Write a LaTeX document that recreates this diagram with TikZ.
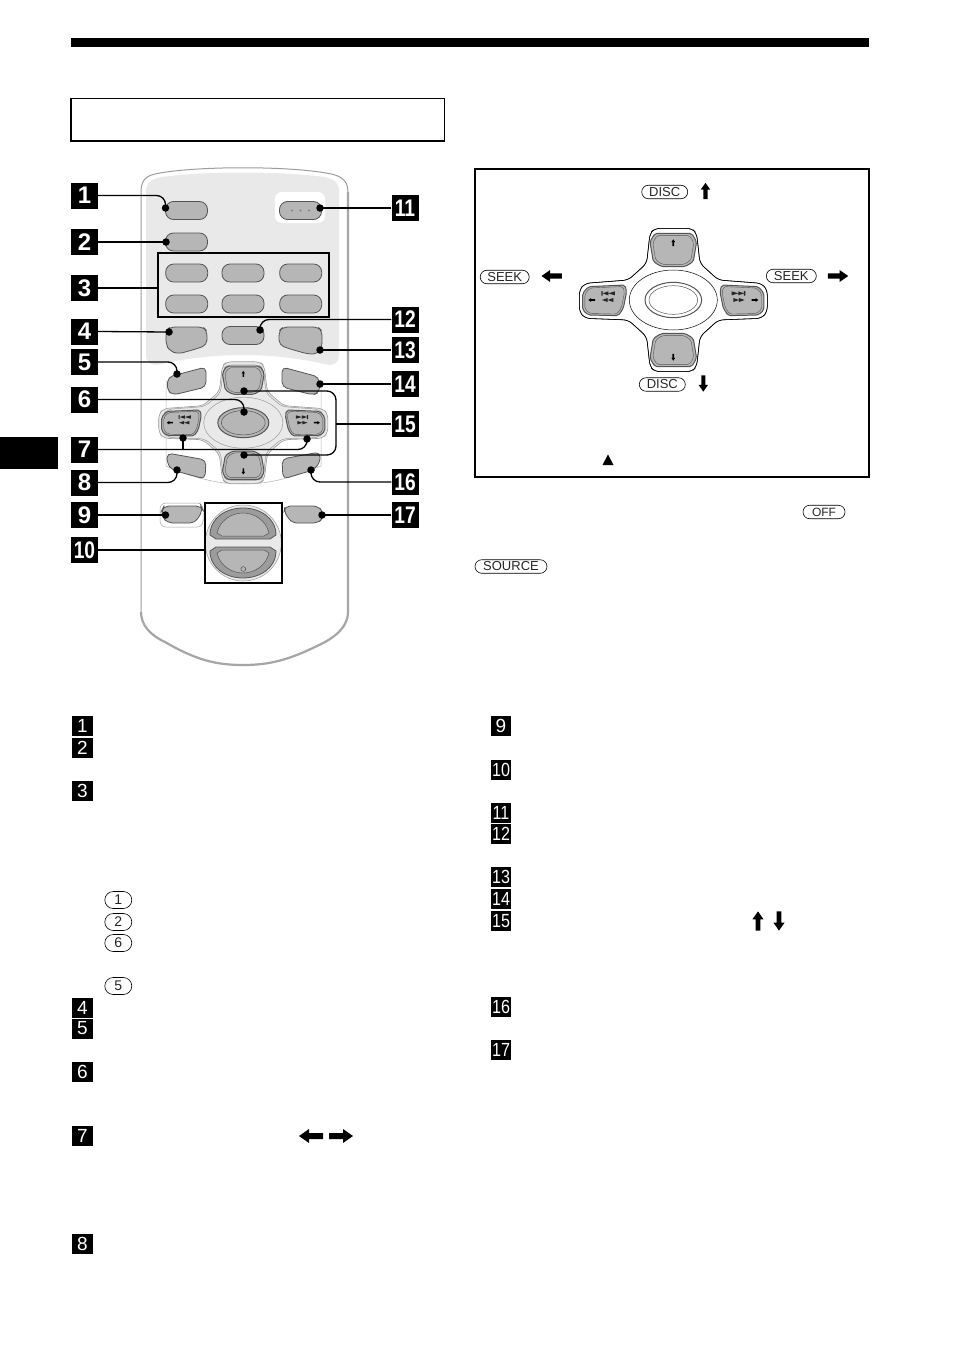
\documentclass[tikz,border=0pt]{standalone}
\usepackage{fontspec}
\usepackage{graphicx}
\setmainfont{Liberation Sans}
\usetikzlibrary{shapes.misc}
\definecolor{btngray}{HTML}{B6B6B6}
\definecolor{btnline}{HTML}{555555}
\definecolor{panelgray}{HTML}{E9E9E9}
\definecolor{ringgray}{HTML}{9C9C9C}
\tikzset{
  badgebig/.style={fill=black,text=white,inner sep=0pt,minimum width=27pt,minimum height=26pt,font=\fontsize{24}{24}\selectfont\bfseries},
  badgesmall/.style={fill=black,text=white,inner sep=0pt,minimum width=20.5pt,minimum height=20pt,font=\fontsize{19}{19}\selectfont},
  pill/.style={rounded rectangle,draw=black,line width=.6pt,inner sep=0pt,minimum height=13.5pt,font=\fontsize{13}{13}\selectfont,text=black!85},
  rbtn/.style={rounded corners=8pt,draw=btnline,fill=btngray,line width=.8pt,minimum width=42pt,minimum height=18pt,inner sep=0pt},
  pbtn/.style={rounded corners=5pt,draw=btnline,fill=btngray,line width=.8pt},
  ldot/.style={circle,fill=black,inner sep=0pt,minimum size=7.5pt},
  leader/.style={line width=1.3pt,black,rounded corners=9pt},
  keybox/.style={draw=black,line width=1.6pt,inner sep=0pt},
  barrow/.pic={\fill[black] (-12,-3)--(2,-3)--(2,-7)--(12,0)--(2,7)--(2,3)--(-12,3)--cycle;},
}
\def\dpadoutline{(-70,-200) -- (-55,-215) -- (55,-215) -- (70,-200) -- (80,-110) -- (135,-60) -- (265,-50) -- (282,-30) -- (282,35) -- (265,55) -- (135,60) -- (80,110) -- (70,200) -- (55,215) -- (-55,215) -- (-70,200) -- (-80,110) -- (-135,60) -- (-265,55) -- (-282,35) -- (-282,-30) -- (-265,-50) -- (-135,-60) -- (-80,-110) -- cycle}
\def\upbtn{(-55,-200) -- (55,-200) -- (70,-175) -- (60,-115) -- (35,-100) -- (-35,-100) -- (-60,-115) -- (-70,-175) -- cycle}
\def\sidebtn{(145,-45) -- (255,-40) -- (272,-20) -- (272,30) -- (255,45) -- (165,47) -- (150,25) -- (140,-25) -- cycle}
% #1 x, #2 y, #3 xscale, #4 yscale, #5 outline, #6 arm fill, #7 ring fill, #8 centre fill, #9 extra outline ring
\newcommand\dpad[9]{%
\begin{scope}[shift={(#1,#2)},xscale=#3/3,yscale=#4/3]
  \draw[#5,line width=.6pt,fill=#6,rounded corners=5pt] \dpadoutline;
  \begin{scope}[scale=#9]
    \draw[#5,line width=.5pt,rounded corners=5pt] \dpadoutline;
  \end{scope}
  \draw[#5,line width=.5pt,fill=#7] (0,0) ellipse (132 and 90);
  \draw[btnline,line width=1pt,fill=#8] (0,0) ellipse (85 and 53);
  \draw[btnline,line width=.5pt,fill=#8] (0,0) ellipse (73 and 43);
  \foreach \sy in {1,-1}{
    \begin{scope}[yscale=\sy]
      \draw[btnline,line width=1pt,fill=btngray,rounded corners=2pt] \upbtn;
      \begin{scope}[shift={(0,-150)},scale=.88,shift={(0,150)}]
        \draw[btnline,line width=.4pt,rounded corners=2pt] \upbtn;
      \end{scope}
    \end{scope}
  }
  \foreach \sx/\rot in {1/0,-1/180}{
    \begin{scope}[xscale=\sx]
      \draw[btnline,line width=1pt,fill=btngray,rounded corners=2pt] \sidebtn;
      \begin{scope}[shift={(205,0)},scale=.9,shift={(-205,0)}]
        \draw[btnline,line width=.4pt,rounded corners=2pt] \sidebtn;
      \end{scope}
      \fill[black!85] (175,-26) -- (195,-20) -- (175,-14) -- cycle
        (195,-26) -- (212,-20) -- (195,-14) -- cycle
        (212,-27) rectangle (216,-13)
        (180,-6) -- (197,0) -- (180,6) -- cycle
        (197,-6) -- (214,0) -- (197,6) -- cycle;
      \pic[scale=.28*#3,rotate=\rot] at (245,0) {barrow};
    \end{scope}
  }
  \pic[scale=.28*#3,rotate=90] at (0,-172) {barrow};
  \pic[scale=.28*#3,rotate=-90] at (0,172) {barrow};
\end{scope}}
\def\lobe{(210,535) .. controls (210,518) and (226,508) .. (243,508) .. controls (260,508) and (276,518) .. (276,535) -- (270,539) -- (216,539) -- cycle}
\def\lobein{(217,533) .. controls (220,520) and (232,513) .. (243,513) .. controls (254,513) and (266,520) .. (269,533) -- (264,536) -- (222,536) -- cycle}
\begin{document}
\begin{tikzpicture}[x=1pt,y=-1pt]
\useasboundingbox (0,0) rectangle (954,1352);
\fill[white] (0,0) rectangle (954,1352);
% page furniture
\fill[black] (71,38) rectangle (869,47);
\fill[black] (0,437) rectangle (58,469);
\draw[black,line width=1.1pt] (71,98.5) rectangle (444.3,141);
\draw[black,line width=1.6pt] (475,169) rectangle (869,477);
% remote body
\draw[line width=1pt,ringgray,fill=white] (141,192) .. controls (141,178) and (148,175) .. (160,173) .. controls (200,166) and (286,166) .. (326,173) .. controls (338,175) and (348,178) .. (348,192) -- (348,612) .. controls (348,625) and (338,635) .. (325,642) .. controls (290,660) and (270,665) .. (243,665) .. controls (216,665) and (196,660) .. (165,642) .. controls (150,635) and (141,625) .. (141,612) -- cycle;
\draw[line width=2.2pt,black!35] (348,192) -- (348,612) .. controls (348,625) and (338,635) .. (325,642) .. controls (290,660) and (270,665) .. (243,665) .. controls (216,665) and (196,660) .. (165,642) .. controls (150,635) and (141,625) .. (141,612);
\fill[panelgray] (146,192) .. controls (146,182) and (152,179) .. (162,177) .. controls (205,171) and (281,171) .. (324,177) .. controls (334,179) and (339,182) .. (339,192) -- (339,355) .. controls (339,362) and (335,365) .. (329,365) .. controls (300,358) and (270,355) .. (243,355) .. controls (216,355) and (186,358) .. (157,365) .. controls (151,365) and (146,362) .. (146,355) -- cycle;
\fill[white,rounded corners=7pt] (275,192) rectangle (325,223);
\draw[line width=.5pt,black!30] (166,380) -- (166,466) .. controls (200,480) and (220,484) .. (243,484) .. controls (266,484) and (286,480) .. (321,466) -- (321,380);
\draw[line width=.5pt,black!35,rounded corners=6pt] (160,503) rectangle (203,527);
% pill buttons
\node[rbtn] (btn1) at (186.5,210.5) {};
\node[rbtn] (btn2) at (186.5,242) {};
\node[rbtn] (btn11) at (300.5,210.5) {};
\fill[black!50] (292,210.5) circle (1.2) (300.5,210.5) circle (1.2) (309,210.5) circle (1.2);
\foreach \n/\x/\y in {a/186.7/273,b/243/273,c/300.7/273,d/186.7/304,e/243/304,f/300.7/304,g/243/335.5}{
  \node[rbtn] (num\n) at (\x,\y) {};
}
\node[keybox,minimum width=171pt,minimum height=64pt] (box3) at (243.5,285) {};
% shaped buttons
\draw[pbtn] (170,327) -- (203,327) -- (207,331) -- (207,345) -- (196,349) -- (178,354) -- (170,351) -- (166,345) -- (166,331) -- cycle;
\draw[pbtn] (283,327) -- (318,327) -- (322,331) -- (322,347) -- (318,354) -- (308,354) -- (290,349) -- (279,345) -- (279,331) -- cycle;
\draw[pbtn] (168,377) -- (206,367) -- (206,387) -- (173,395) -- (167,390) -- cycle;
\draw[pbtn] (282,367) -- (319,377) -- (320,392) -- (313,395) -- (282,387) -- cycle;
\draw[pbtn] (167,453) -- (206,460) -- (205,479) -- (172,470) -- (167,463) -- cycle;
\draw[pbtn] (282,459) -- (320,452) -- (320,463) -- (313,470) -- (283,479) -- cycle;
\draw[pbtn] (164,506) -- (201,506) -- (203,510) -- (195,523) -- (168,523) -- (162,517) -- (162,510) -- cycle;
\draw[pbtn] (285,506) -- (318,506) -- (323,512) -- (323,518) -- (318,523) -- (292,523) -- (284,512) -- cycle;
% big round key
\draw[line width=.5pt,black!40,fill=panelgray] (243.3,543) circle (38);
\draw[line width=.8pt,btnline,fill=ringgray] \lobe;
\draw[line width=.5pt,btnline,fill=btngray] \lobein;
\begin{scope}[shift={(0,1086)},yscale=-1]
  \draw[line width=.8pt,btnline,fill=ringgray] \lobe;
  \draw[line width=.5pt,btnline,fill=btngray] \lobein;
\end{scope}
\draw[line width=.5pt,black!70] (243.3,569) circle (2.4);
\node[keybox,minimum width=77pt,minimum height=80pt] (box10) at (243.5,543) {};
% direction pads
\dpad{243.3}{422.7}{.9}{.85}{black!40}{panelgray}{panelgray}{btngray}{.95}
\dpad{673.3}{300}{1}{1}{black}{white}{white}{white}{1}
% remote badges
\node[badgebig] (b1) at (84.5,195.5) {1};
\node[badgebig] (b2) at (84.5,242) {2};
\node[badgebig] (b3) at (84.5,288) {3};
\node[badgebig] (b4) at (84.5,331.5) {4};
\node[badgebig] (b5) at (84.5,362) {5};
\node[badgebig] (b6) at (84.5,399.5) {6};
\node[badgebig] (b7) at (84.5,449.5) {7};
\node[badgebig] (b8) at (84.5,482.5) {8};
\node[badgebig] (b9) at (84.5,515) {9};
\node[badgebig] (b10) at (84.5,550) {\scalebox{.8}[1]{10}};
\node[badgebig] (b11) at (405,208) {\scalebox{.8}[1]{11}};
\node[badgebig] (b12) at (405,319.5) {\scalebox{.8}[1]{12}};
\node[badgebig] (b13) at (405,350) {\scalebox{.8}[1]{13}};
\node[badgebig] (b14) at (405,384) {\scalebox{.8}[1]{14}};
\node[badgebig] (b15) at (405,424) {\scalebox{.8}[1]{15}};
\node[badgebig] (b16) at (405,482) {\scalebox{.8}[1]{16}};
\node[badgebig] (b17) at (405,515) {\scalebox{.8}[1]{17}};
% leader ends
\node[ldot] (d1) at (165.5,208) {};
\node[ldot] (d2) at (166,242) {};
\node[ldot] (d4) at (169,332) {};
\node[ldot] (d5) at (177,374) {};
\node[ldot] (d6) at (244,412) {};
\node[ldot] (d7a) at (183,438) {};
\node[ldot] (d7b) at (307,439) {};
\node[ldot] (d8) at (177,470) {};
\node[ldot] (d9) at (165.5,515) {};
\node[ldot] (d11) at (320,208) {};
\node[ldot] (d12) at (260,330) {};
\node[ldot] (d13) at (320,350) {};
\node[ldot] (d14) at (320,384) {};
\node[ldot] (d15a) at (244,391) {};
\node[ldot] (d15b) at (244,455) {};
\node[ldot] (d16) at (311,470) {};
\node[ldot] (d17) at (322,515) {};
\coordinate (j15) at (336,424);
% leaders
\draw[leader] (b1.east) -| (d1.center);
\draw[leader] (b2.east) -- (d2.center);
\draw[leader] (b3.east) -- (b3.east -| box3.west);
\draw[leader] (b4.east) -- (d4.center);
\draw[leader] (b5.east) -| (d5.center);
\draw[leader] (b6.east) -| (d6.center);
\draw[leader] (b7.east) -| (d7b.center);
\draw[leader] (d7a.center) -- (d7a.center |- b7.east);
\draw[leader] (b8.east) -| (d8.center);
\draw[leader] (b9.east) -- (d9.center);
\draw[leader] (b10.east) -- (b10.east -| box10.west);
\draw[leader] (b11.west) -- (d11.center);
\draw[leader] (b12.west) -| (d12.center);
\draw[leader] (b13.west) -- (d13.center);
\draw[leader] (b14.west) -- (d14.center);
\draw[leader] (d15a.center) -| (j15) |- (d15b.center);
\draw[leader] (b15.west) -- (j15);
\draw[leader] (b16.west) -| (d16.center);
\draw[leader] (b17.west) -- (d17.center);
% right frame labels
\node[pill,minimum width=46pt] (discup) at (664.7,192) {DISC};
\node[pill,minimum width=46pt] (discdn) at (662.3,384.5) {DISC};
\node[pill,minimum width=49pt] (seekl) at (504.7,277) {SEEK};
\node[pill,minimum width=50pt] (seekr) at (791.3,276) {SEEK};
\pic[scale=.68,rotate=90] at (705.5,191) {barrow};
\pic[scale=.68,rotate=-90] at (703.3,383.5) {barrow};
\pic[scale=.85,rotate=180] at (551.7,276) {barrow};
\pic[scale=.85] at (838,276) {barrow};
\fill[black] (602.5,465) -- (613.5,465) -- (608,454.5) -- cycle;
\node[pill,minimum width=42pt,font=\fontsize{12}{12}\selectfont] (off) at (824,512) {OFF};
\node[pill,minimum width=72pt] (source) at (511,566.5) {SOURCE};
% description list, left
\node[badgesmall] (l1) at (82.5,726) {1};
\node[badgesmall] (l2) at (82.5,748) {2};
\node[badgesmall] (l3) at (82.5,791) {3};
\node[badgesmall] (l4) at (82.5,1007.5) {4};
\node[badgesmall] (l5) at (82.5,1028.5) {5};
\node[badgesmall] (l6) at (82.5,1072) {6};
\node[badgesmall] (l7) at (82.5,1136) {7};
\node[badgesmall] (l8) at (82.5,1244) {8};
\foreach \t/\y in {1/900,2/922,6/943,5/986}{
  \node[pill,minimum width=27pt,minimum height=17pt,font=\fontsize{14}{14}\selectfont] (key\t) at (118.3,\y) {\t};
}
\pic[rotate=180] at (311,1136) {barrow};
\pic at (341,1136) {barrow};
% description list, right
\node[badgesmall] (l9) at (501,726) {9};
\node[badgesmall] (l10) at (501,770) {\scalebox{.85}[1]{10}};
\node[badgesmall] (l11) at (501,813) {\scalebox{.85}[1]{11}};
\node[badgesmall] (l12) at (501,834) {\scalebox{.85}[1]{12}};
\node[badgesmall] (l13) at (501,877) {\scalebox{.85}[1]{13}};
\node[badgesmall] (l14) at (501,899) {\scalebox{.85}[1]{14}};
\node[badgesmall] (l15) at (501,921) {\scalebox{.85}[1]{15}};
\node[badgesmall] (l16) at (501,1007) {\scalebox{.85}[1]{16}};
\node[badgesmall] (l17) at (501,1050) {\scalebox{.85}[1]{17}};
\pic[scale=.8,rotate=90] at (758,921) {barrow};
\pic[scale=.8,rotate=-90] at (779,921) {barrow};
\end{tikzpicture}
\end{document}
